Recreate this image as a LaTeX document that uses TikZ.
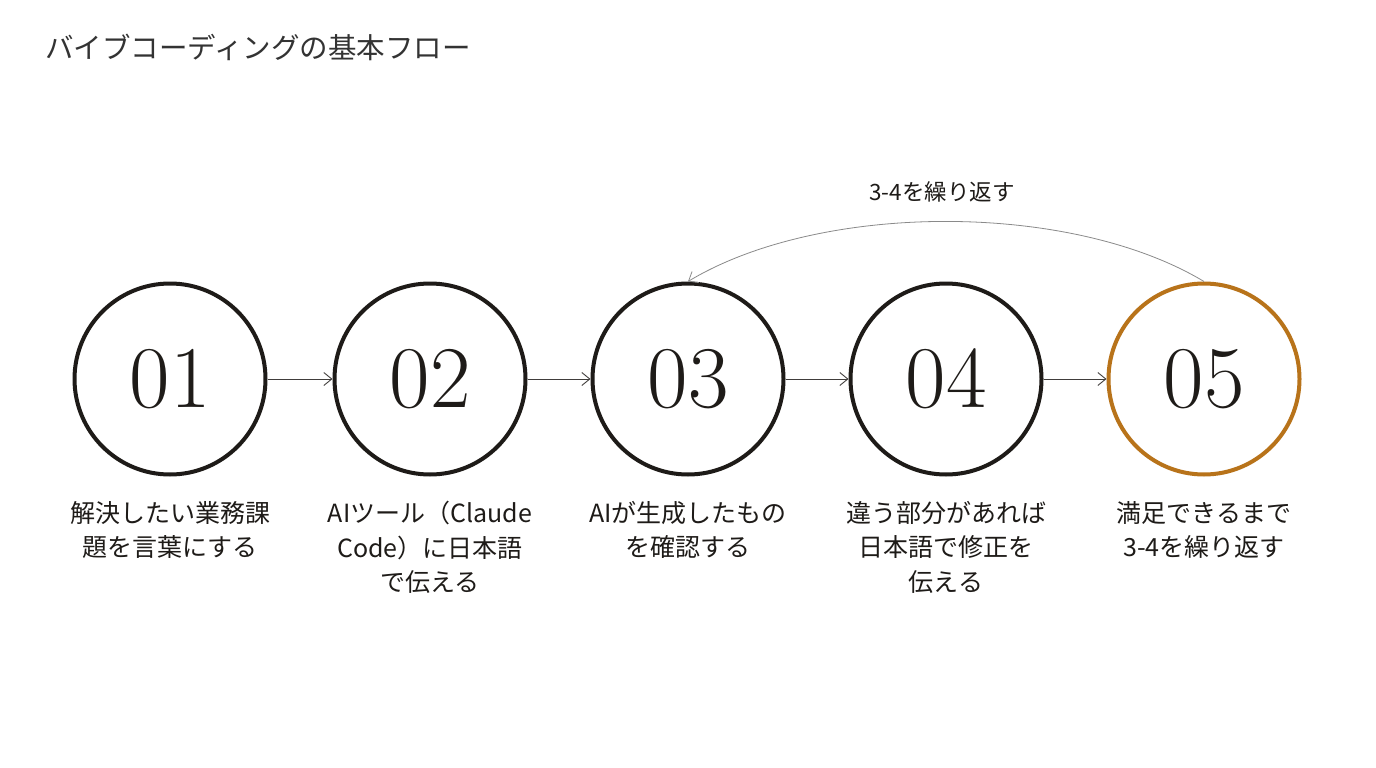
\documentclass[tikz,border=0pt]{standalone}
\usepackage{fontspec}
\newfontfamily\jp{Noto Sans CJK JP}
\usetikzlibrary{arrows.meta}
\definecolor{ink}{HTML}{1E1B18}
\definecolor{accent}{HTML}{B8731A}
\definecolor{titlegray}{HTML}{333333}
\definecolor{loopgray}{HTML}{8A8A8A}
\tikzset{
  stepcircle/.style={circle,draw=ink,line width=4pt,minimum size=191pt,inner sep=0pt,
    font=\fontsize{88}{88}\selectfont,text=ink},
  steplabel/.style={anchor=north,align=center,inner sep=0pt,text=ink,
    font=\jp\fontsize{25}{34.5}\selectfont},
  flow/.style={draw=ink!85,line width=0.9pt,-{Straight Barb[length=8pt,width=13pt,line width=0.9pt]}},
  loop/.style={draw=loopgray,line width=0.8pt,-{Straight Barb[length=8pt,width=13pt,line width=0.8pt]}}
}
\begin{document}
\begin{tikzpicture}[x=1pt,y=-1pt]
\useasboundingbox[fill=white] (0,0) rectangle (1376,768);
\node[anchor=west,inner sep=0pt,text=titlegray,font=\jp\fontsize{28.5}{30}\selectfont] (title) at (45,47) {バイブコーディングの基本フロー};

\node[stepcircle] (c1) at (170,379) {01};
\node[stepcircle] (c2) at (430,379) {02};
\node[stepcircle] (c3) at (688,379) {03};
\node[stepcircle] (c4) at (946,379) {04};
\node[stepcircle,draw=accent] (c5) at (1204,379) {05};

\draw[flow] (c1) -- (c2);
\draw[flow] (c2) -- (c3);
\draw[flow] (c3) -- (c4);
\draw[flow] (c4) -- (c5);

\draw[loop] (c5.north) .. controls +(-133,-80) and +(133,-80) .. (c3.north);
\node[text=ink,font=\jp\fontsize{22.5}{24}\selectfont,inner sep=0pt] (looplabel) at (942,192) {3-4を繰り返す};

\node[steplabel] (l1) at (170,501) {解決したい業務課\\題を言葉にする};
\node[steplabel] (l2) at (430,501) {AIツール（Claude\\Code）に日本語\\で伝える};
\node[steplabel] (l3) at (688,501) {AIが生成したもの\\を確認する};
\node[steplabel] (l4) at (946,501) {違う部分があれば\\日本語で修正を\\伝える};
\node[steplabel] (l5) at (1204,501) {満足できるまで\\3-4を繰り返す};
\end{tikzpicture}
\end{document}
